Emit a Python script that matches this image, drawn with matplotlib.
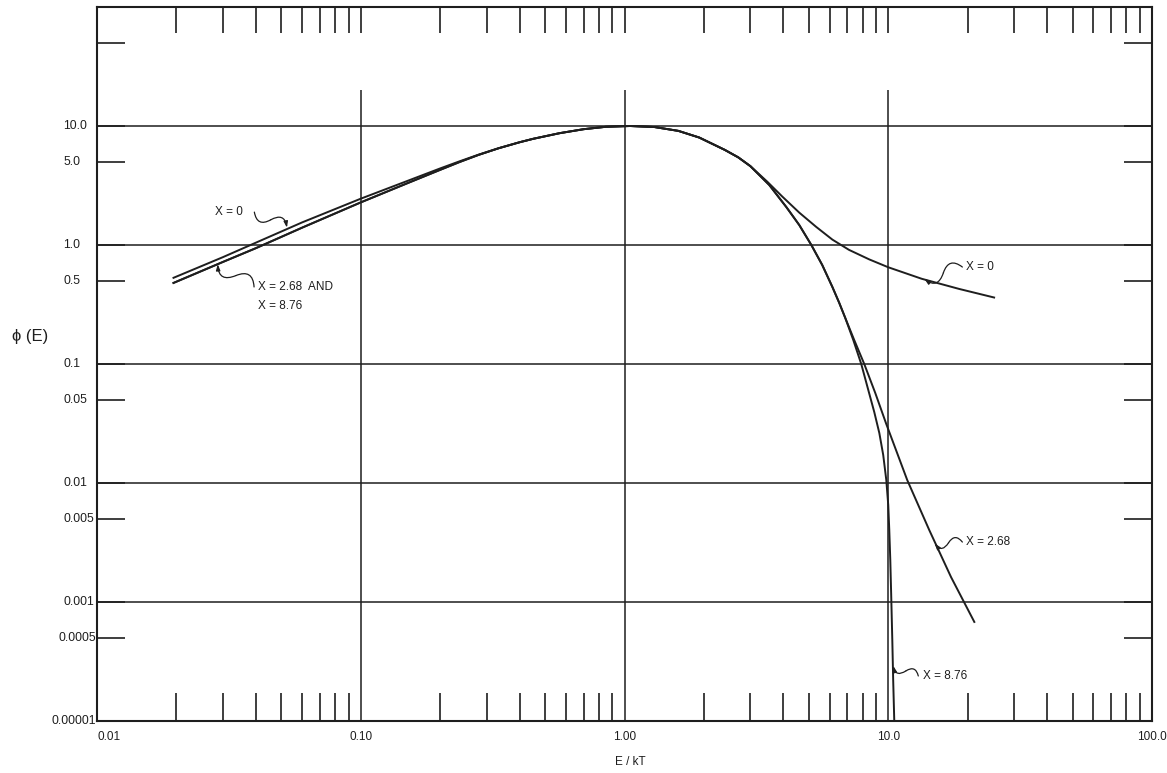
import matplotlib
matplotlib.use("Agg")
import matplotlib.pyplot as plt
from matplotlib.ticker import NullLocator, FixedLocator

plt.rcParams['font.family'] = ['Liberation Sans', 'DejaVu Sans']

# values (E/kT, phi(E))
e_x0 = [0.0195, 0.03, 0.039, 0.06, 0.1, 0.15, 0.2, 0.237, 0.28, 0.333, 0.4, 0.45,
        0.567, 0.7, 0.85, 1.05, 1.3, 1.6, 1.92, 2.4, 2.7, 3.0, 3.48, 3.96, 4.6,
        5.33, 6.14, 7.1, 8.47, 10.0, 13.4, 18.6, 25.2]
phi_x0 = [0.53, 0.79, 1.02, 1.55, 2.45, 3.45, 4.4, 5.05, 5.75, 6.5, 7.3, 7.8,
          8.7, 9.4, 9.85, 10.0, 9.8, 9.1, 8.0, 6.3, 5.45, 4.6, 3.4, 2.56, 1.87,
          1.42, 1.11, 0.91, 0.757, 0.65, 0.52, 0.427, 0.362]

e_x268 = [0.0195, 0.03, 0.04, 0.06, 0.1, 0.15, 0.2, 0.237, 0.28, 0.333, 0.4, 0.45,
          0.567, 0.7, 0.85, 1.05, 1.3, 1.6, 1.92, 2.4, 2.7, 3.0, 3.54, 4.11, 4.6,
          5.11, 5.62, 6.14, 6.52, 6.87, 7.43, 8.11, 8.93, 9.83, 11.8, 14.3, 17.3, 21.2]
phi_x268 = [0.48, 0.72, 0.94, 1.40, 2.28, 3.3, 4.28, 4.98, 5.72, 6.5, 7.3, 7.8,
            8.7, 9.4, 9.85, 10.0, 9.8, 9.1, 8.0, 6.3, 5.45, 4.6, 3.19, 2.08, 1.47,
            1.0, 0.679, 0.444, 0.326, 0.244, 0.159, 0.100, 0.057, 0.0313, 0.0106,
            0.00403, 0.00162, 0.00068]

e_x876 = [0.0195, 0.03, 0.04, 0.06, 0.1, 0.15, 0.2, 0.237, 0.28, 0.333, 0.4, 0.45,
          0.567, 0.7, 0.85, 1.05, 1.3, 1.6, 1.92, 2.4, 2.7, 3.0, 3.54, 4.11, 4.6,
          5.11, 5.62, 6.14, 6.52, 6.87, 7.37, 7.90, 8.40, 8.85, 9.25, 9.57, 9.83,
          10.0, 10.09, 10.18, 10.26, 10.36, 10.44, 10.54]
phi_x876 = [0.48, 0.72, 0.94, 1.40, 2.28, 3.3, 4.28, 4.98, 5.72, 6.5, 7.3, 7.8,
            8.7, 9.4, 9.85, 10.0, 9.8, 9.1, 8.0, 6.3, 5.45, 4.6, 3.19, 2.08, 1.47,
            1.0, 0.679, 0.444, 0.326, 0.244, 0.159, 0.100, 0.0605, 0.0395, 0.0263,
            0.0172, 0.0106, 0.00653, 0.00403, 0.00225, 0.00115, 0.00048, 0.000221,
            0.0001]

x_major = [0.01, 0.1, 1, 10, 100]
x_labels = ['0.01', '0.10', '1.00', '10.0', '100.0']
y_ticks = [50, 10, 5, 1, 0.5, 0.1, 0.05, 0.01, 0.005, 0.001, 0.0005, 0.0001]
y_labels = ['', '10.0', '5.0', '1.0', '0.5', '0.1', '0.05', '0.01', '0.005', '0.001',
            '0.0005', '0.00001']
y_grid = [10, 1, 0.1, 0.01, 0.001]
x_grid = [0.1, 1, 10]

ink = '#1e1e1e'

fig = plt.figure(figsize=(11.67, 7.73), dpi=100)
ax = fig.add_axes([97 / 1167, 1 - 721 / 773, 1055 / 1167, 714 / 773])
ax.set_xscale('log')
ax.set_yscale('log')
ax.set_xlim(0.01, 100)
ax.set_ylim(0.0001, 100)

for s in ax.spines.values():
    s.set_linewidth(1.5)
    s.set_color(ink)

# grid lines as drawn on the sheet
for v in y_grid:
    ax.axhline(v, color=ink, lw=1.1)
ax.vlines(x_grid, 0.0001, 20, color=ink, lw=1.1)

# x ticks
minor_x = [m * 10.0 ** k for k in (-2, -1, 0, 1) for m in range(2, 10)]
ax.xaxis.set_major_locator(FixedLocator(x_major))
ax.set_xticklabels(x_labels)
ax.xaxis.set_minor_locator(FixedLocator(minor_x))
ax.tick_params(axis='x', which='major', length=0, pad=7, labelsize=8.5, colors=ink)
ax.tick_params(axis='x', which='minor', direction='in', length=20, width=1.2,
               bottom=True, top=False, color=ink)
ax.get_xticklabels()[0].set_ha('left')
top_x = minor_x + [0.1, 1, 10]
ax.vlines(top_x, 1 - 26 / 714, 1, transform=ax.get_xaxis_transform(), color=ink, lw=1.2)

# y ticks
ax.yaxis.set_minor_locator(NullLocator())
ax.set_yticks(y_ticks)
ax.set_yticklabels([''] * len(y_ticks))
ax.tick_params(axis='y', which='major', direction='in', length=20, width=1.2,
               left=True, right=True, color=ink)
for v, lab in zip(y_ticks, y_labels):
    if not lab:
        continue
    if len(lab) >= 6:
        ax.text(-0.001, v, lab, transform=ax.get_yaxis_transform(), ha='right',
                va='center', fontsize=8.8, color=ink)
    else:
        ax.text(-34 / 1055, v, lab, transform=ax.get_yaxis_transform(), ha='left',
                va='center', fontsize=8.8, color=ink)

# curves
ax.plot(e_x0, phi_x0, color=ink, lw=1.4)
ax.plot(e_x268, phi_x268, color=ink, lw=1.4)
ax.plot(e_x876, phi_x876, color=ink, lw=1.4)


def leader(start, tip, bend=0.7):
    # little S-shaped pointer from the label to the curve
    mid = ((start[0] * tip[0]) ** 0.5, (start[1] * tip[1]) ** 0.5)
    ax.annotate('', xy=mid, xytext=start,
                arrowprops=dict(arrowstyle='-', lw=0.9, color=ink, shrinkA=0, shrinkB=0,
                                connectionstyle='arc3,rad=%s' % bend))
    ax.annotate('', xy=tip, xytext=mid,
                arrowprops=dict(arrowstyle='-|>,head_length=0.35,head_width=0.12', lw=0.9,
                                color=ink, shrinkA=0, shrinkB=0,
                                connectionstyle='arc3,rad=%s' % (-bend)))


lab_kw = dict(fontsize=8.5, color=ink, va='center', ha='left')
ax.text(0.028, 1.89, 'X = 0', **lab_kw)
leader((0.0395, 1.89), (0.0525, 1.40))

ax.text(0.0408, 0.444, 'X = 2.68  AND', **lab_kw)
ax.text(0.0408, 0.307, 'X = 8.76', **lab_kw)
leader((0.0394, 0.444), (0.0287, 0.69))

ax.text(19.7, 0.653, 'X = 0', **lab_kw)
leader((19.1, 0.653), (13.7, 0.52))

ax.text(19.7, 0.00319, 'X = 2.68', **lab_kw)
leader((19.1, 0.00319), (15.0, 0.0031))

ax.text(13.5, 0.000239, 'X = 8.76', **lab_kw)
leader((13.0, 0.000239), (10.45, 0.00029))

fig.text(12 / 1167, 1 - 337 / 773, '\u03d5 (E)', ha='left', va='center', fontsize=12,
         color=ink)
fig.text(630 / 1167, 1 - 762 / 773, 'E / kT', ha='center', va='center', fontsize=8.5,
         color=ink)

fig.savefig('out.png', dpi=100, facecolor='white')
